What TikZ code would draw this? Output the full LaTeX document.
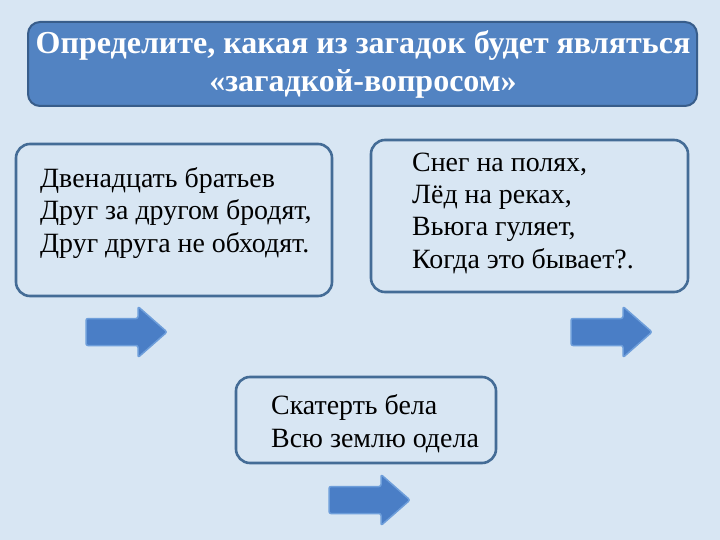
\documentclass[tikz,border=0pt]{standalone}
\usepackage{fontspec}
\setmainfont{Liberation Serif}
\definecolor{bgc}{RGB}{216,230,243}
\definecolor{titlefill}{RGB}{82,131,194}
\definecolor{titleedge}{RGB}{56,93,138}
\definecolor{boxedge}{RGB}{68,108,150}
\definecolor{arrfill}{RGB}{74,126,198}
\definecolor{arredge}{RGB}{110,158,218}
\tikzset{
  titlebox/.style={draw=titleedge, line width=2pt, fill=titlefill, rounded corners=12pt},
  riddlebox/.style={draw=boxedge, line width=2.6pt, rounded corners=14pt},
  riddletext/.style={anchor=base west, align=left, inner sep=0pt, font=\fontsize{27.9}{32.3}\selectfont},
  blockarrow/.style={fill=arrfill, draw=arredge, line width=1.5pt, rounded corners=2pt, line join=round}
}
\begin{document}
\begin{tikzpicture}[x=1pt,y=-1pt]
\fill[bgc] (0,0) rectangle (720,540);
\useasboundingbox (0,0) rectangle (720,540);
% title (anchors at the baseline of the last line)
\draw[titlebox] (28,22) rectangle (697,106);
\node[anchor=base, inner sep=0pt, text=white, font=\bfseries\fontsize{32}{38}\selectfont, align=center] (title) at (363,92) {Определите, какая из загадок будет являться\\«загадкой-вопросом»};
% boxes
\draw[riddlebox] (16,144) rectangle (332,296);
\node[riddletext] (t1) at (40,252) {Двенадцать братьев\\Друг за другом бродят,\\Друг друга не обходят.};
\draw[riddlebox] (371,140) rectangle (688,292);
\node[riddletext] (t2) at (412,268) {Снег на полях,\\Лёд на реках,\\Вьюга гуляет,\\Когда это бывает?.};
\draw[riddlebox] (236,377) rectangle (496,463);
\node[riddletext] (t3) at (271,447) {Скатерть бела\\Всю землю одела};
% arrows
\foreach \ax/\ay in {86/332, 571/332, 329/500}{
  \draw[blockarrow] (\ax,\ay-13.5) -- (\ax+52,\ay-13.5) -- (\ax+52,\ay-25.5) -- (\ax+81,\ay) -- (\ax+52,\ay+25.5) -- (\ax+52,\ay+13.5) -- (\ax,\ay+13.5) -- cycle;
}
\end{tikzpicture}
\end{document}
